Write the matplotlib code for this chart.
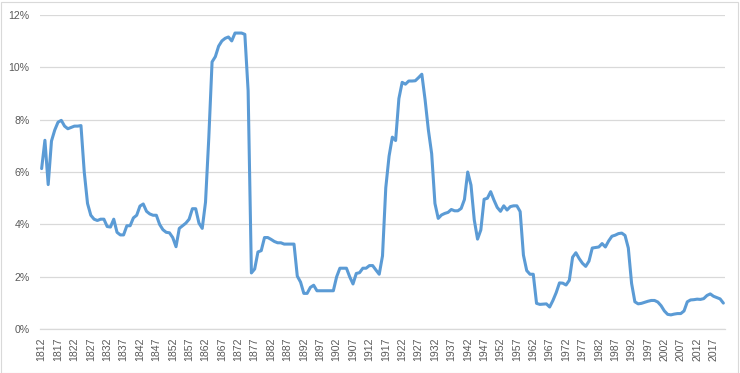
import matplotlib
matplotlib.use("Agg")
import matplotlib.pyplot as plt
from matplotlib.patches import Rectangle
from matplotlib.ticker import FuncFormatter

start_year = 1812
values = [
    6.13, 7.21, 5.52, 7.18, 7.6, 7.9, 7.97, 7.75, 7.65, 7.7,          # 1812-1821
    7.75, 7.75, 7.77, 6.0, 4.8, 4.35, 4.2, 4.15, 4.2, 4.2,            # 1822-1831
    3.92, 3.9, 4.2, 3.7, 3.6, 3.6, 3.95, 3.95, 4.25, 4.35,            # 1832-1841
    4.7, 4.78, 4.5, 4.4, 4.35, 4.35, 4.0, 3.8, 3.7, 3.68,             # 1842-1851
    3.5, 3.15, 3.85, 3.95, 4.05, 4.2, 4.6, 4.6, 4.05, 3.85,           # 1852-1861
    4.85, 7.3, 10.2, 10.4, 10.8, 11.0, 11.1, 11.15, 11.0, 11.3,       # 1862-1871
    11.3, 11.3, 11.25, 9.1, 2.15, 2.3, 2.95, 3.0, 3.5, 3.5,           # 1872-1881
    3.43, 3.35, 3.3, 3.3, 3.25, 3.25, 3.25, 3.25, 2.03, 1.8,          # 1882-1891
    1.37, 1.37, 1.6, 1.68, 1.47, 1.47, 1.47, 1.47, 1.47, 1.47,        # 1892-1901
    2.0, 2.33, 2.33, 2.33, 2.0, 1.73, 2.13, 2.16, 2.33, 2.33,         # 1902-1911
    2.43, 2.43, 2.26, 2.1, 2.8, 5.4, 6.6, 7.33, 7.2, 8.8,             # 1912-1921
    9.42, 9.35, 9.47, 9.47, 9.48, 9.6, 9.73, 8.75, 7.6, 6.7,          # 1922-1931
    4.8, 4.23, 4.36, 4.42, 4.46, 4.57, 4.52, 4.52, 4.61, 4.95,        # 1932-1941
    6.0, 5.5, 4.17, 3.44, 3.79, 4.96, 5.0, 5.25, 4.93, 4.65,          # 1942-1951
    4.5, 4.71, 4.55, 4.68, 4.71, 4.71, 4.49, 2.83, 2.24, 2.1,         # 1952-1961
    2.1, 0.99, 0.95, 0.96, 0.97, 0.85, 1.1, 1.4, 1.77, 1.76,          # 1962-1971
    1.69, 1.87, 2.75, 2.92, 2.7, 2.52, 2.4, 2.6, 3.1, 3.12,           # 1972-1981
    3.14, 3.27, 3.14, 3.37, 3.55, 3.59, 3.65, 3.67, 3.58, 3.1,        # 1982-1991
    1.75, 1.05, 0.97, 0.99, 1.03, 1.07, 1.1, 1.1, 1.04, 0.9,          # 1992-2001
    0.7, 0.57, 0.55, 0.58, 0.6, 0.6, 0.7, 1.05, 1.12, 1.13,           # 2002-2011
    1.15, 1.14, 1.17, 1.29, 1.35, 1.26, 1.21, 1.16, 1.0,              # 2012-2020
]
years = list(range(start_year, start_year + len(values)))
tick_labels = [str(y) for y in years[::5]]
y_ticks = [0, 2, 4, 6, 8, 10, 12]

plt.rcParams['font.family'] = ['Liberation Sans', 'DejaVu Sans']

fig = plt.figure(figsize=(7.40, 3.73), dpi=100)
ax = fig.add_axes([40 / 740, 1 - 329.3 / 373, 685 / 740, (329.3 - 14.7) / 373])

idx = list(range(len(values)))
ax.plot(idx, values, color='#5B9BD5', lw=2.2, solid_joinstyle='round',
        solid_capstyle='round', zorder=3)

ax.set_xlim(-0.5, len(values) - 0.5)
ax.set_ylim(0, 12)
ax.set_yticks(y_ticks)
ax.yaxis.set_major_formatter(FuncFormatter(lambda v, p: f"{v:.0f}%"))
ax.set_xticks(idx[::5])
ax.set_xticklabels(tick_labels, rotation=90)

ax.grid(axis='y', color='#D9D9D9', lw=0.9, zorder=0)
for s in ['top', 'right', 'left']:
    ax.spines[s].set_visible(False)
ax.spines['bottom'].set_color('#D9D9D9')
ax.spines['bottom'].set_linewidth(0.9)
ax.tick_params(axis='both', length=0, colors='#595959', labelsize=7.6)
ax.tick_params(axis='y', pad=7.5)
ax.tick_params(axis='x', pad=6)

fig.patches.append(Rectangle((0.5 / 740, 0.5 / 373), 737 / 740, 371 / 373,
                             transform=fig.transFigure, fill=False,
                             edgecolor='#D9D9D9', lw=0.8))

fig.savefig('out.png', dpi=100)
